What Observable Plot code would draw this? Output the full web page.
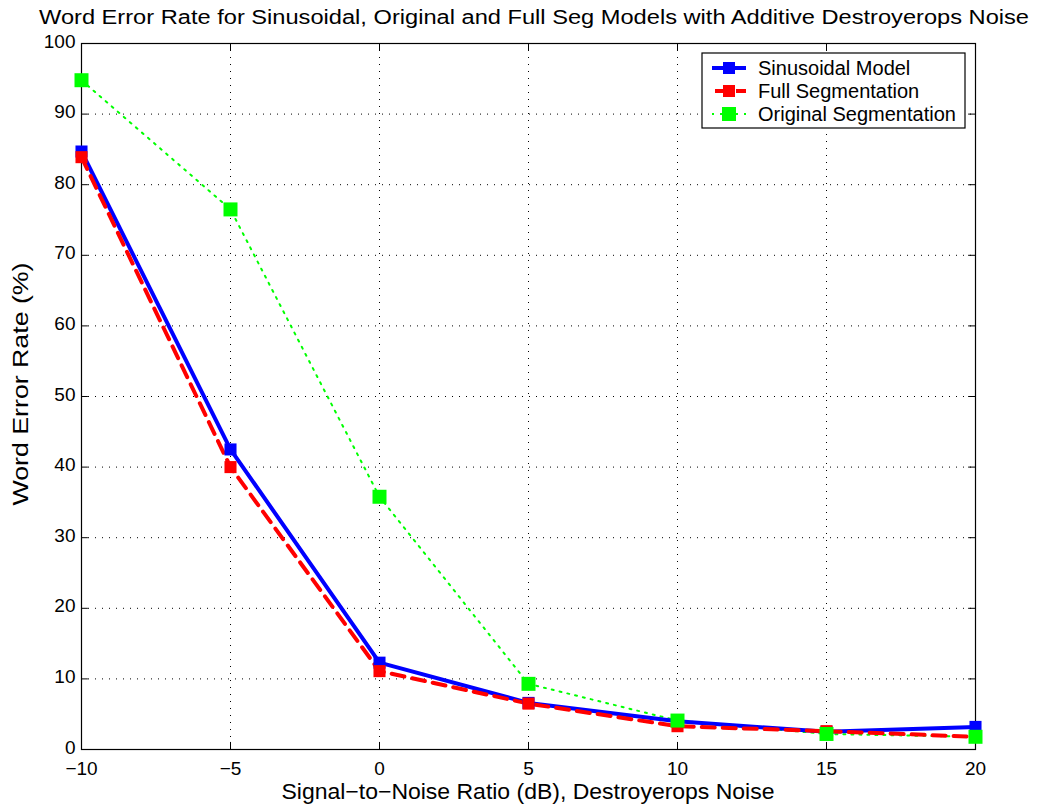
<!DOCTYPE html>
<html><head><meta charset="utf-8">
<script src="https://cdn.jsdelivr.net/npm/d3@7"></script>
<script src="https://cdn.jsdelivr.net/npm/@observablehq/plot@0.6"></script>
<style>body{margin:0;background:#fff;font-family:"Liberation Sans",Arial,sans-serif}</style>
</head><body><div id="chart"></div>
<script>
const snr = [-10, -5, 0, 5, 10, 15, 20];
const sinusoidal = [84.7, 42.5, 12.3, 6.6, 4.0, 2.5, 3.2];
const fullSeg = [83.9, 40.0, 11.1, 6.5, 3.3, 2.6, 1.8];
const originalSeg = [94.8, 76.5, 35.8, 9.3, 4.1, 2.2, 1.8];
const xTicks = [-10, -5, 0, 5, 10, 15, 20];
const yTicks = [0, 10, 20, 30, 40, 50, 60, 70, 80, 90, 100];
const seriesNames = ["Sinusoidal Model", "Full Segmentation", "Original Segmentation"];
const titleText = "Word Error Rate for Sinusoidal, Original and Full Seg Models with Additive Destroyerops Noise";
const xLabel = "Signal\u2212to\u2212Noise Ratio (dB), Destroyerops Noise";
const yLabel = "Word Error Rate (%)";

const mk = (vals, name) => snr.map((x, i) => ({x, y: vals[i], name}));
const dS = mk(sinusoidal, seriesNames[0]);
const dF = mk(fullSeg, seriesNames[1]);
const dO = mk(originalSeg, seriesNames[2]);

const font = "Liberation Sans, Arial, sans-serif";
const minus = d => String(d).replace("-", "\u2212");
const plot = Plot.plot({
  width: 1042, height: 809,
  marginLeft: 81, marginRight: 67, marginTop: 43, marginBottom: 60,
  style: {fontFamily: font, fontSize: "19px", background: "white", color: "black"},
  x: {domain: [-10, 20], ticks: xTicks, label: null, tickFormat: minus},
  y: {domain: [0, 100], ticks: yTicks, label: null},
  marks: [
    Plot.gridX(xTicks, {stroke: "black", strokeOpacity: 1, strokeDasharray: "1,6", strokeWidth: 1}),
    Plot.gridY(yTicks, {stroke: "black", strokeOpacity: 1, strokeDasharray: "1,6", strokeWidth: 1}),
    Plot.ruleX(xTicks, {y1: 0, y2: 1.0, stroke: "black"}),
    Plot.ruleX(xTicks, {y1: 99.0, y2: 100, stroke: "black"}),
    Plot.ruleY(yTicks, {x1: -10, x2: -9.77, stroke: "black"}),
    Plot.ruleY(yTicks, {x1: 19.77, x2: 20, stroke: "black"}),
    Plot.frame({stroke: "black", strokeWidth: 1.2}),
    Plot.axisX(xTicks, {tickSize: 0, tickPadding: 12, fontSize: 19, tickFormat: minus}),
    Plot.axisY(yTicks, {tickSize: 0, tickPadding: 6, fontSize: 19, dy: -2}),
    Plot.line(dO, {x: "x", y: "y", stroke: "#00ff00", strokeWidth: 2, strokeDasharray: "2,6"}),
    Plot.line(dS, {x: "x", y: "y", stroke: "#0000ff", strokeWidth: 4}),
    Plot.line(dF, {x: "x", y: "y", stroke: "#ff0000", strokeWidth: 4, strokeDasharray: "13,8"}),
    Plot.dot(dS, {x: "x", y: "y", symbol: "square", r: 6.8, fill: "#0000ff"}),
    Plot.dot(dF, {x: "x", y: "y", symbol: "square", r: 6.8, fill: "#ff0000"}),
    Plot.dot(dO, {x: "x", y: "y", symbol: "square", r: 7.9, fill: "#00ff00"})
  ]
});
document.getElementById("chart").appendChild(plot);

const svg = d3.select(plot);
svg.append("text").attr("x", 534).attr("y", 24).attr("text-anchor", "middle")
  .attr("font-size", 20).attr("font-family", font)
  .attr("textLength", 990).attr("lengthAdjust", "spacingAndGlyphs").text(titleText);
svg.append("text").attr("x", 528).attr("y", 799).attr("text-anchor", "middle")
  .attr("font-size", 22).attr("font-family", font)
  .attr("textLength", 493).attr("lengthAdjust", "spacingAndGlyphs").text(xLabel);
svg.append("text").attr("transform", "translate(28,384) rotate(-90)").attr("text-anchor", "middle")
  .attr("font-size", 22).attr("font-family", font)
  .attr("textLength", 243).attr("lengthAdjust", "spacingAndGlyphs").text(yLabel);

// legend
const lg = svg.append("g").attr("transform", "translate(702,53)");
lg.append("rect").attr("width", 263).attr("height", 75).attr("fill", "white").attr("stroke", "black").attr("stroke-width", 1.2);
const styles = [
  {c: "#0000ff", w: 4, dash: null, s: 12},
  {c: "#ff0000", w: 4, dash: "13,8", s: 12},
  {c: "#00ff00", w: 2, dash: "2,6", s: 14}
];
seriesNames.forEach((n, i) => {
  const y = 15 + i * 23;
  const st = styles[i];
  const l = lg.append("line").attr("x1", 10).attr("x2", 44).attr("y1", y).attr("y2", y)
    .attr("stroke", st.c).attr("stroke-width", st.w);
  if (st.dash) l.attr("stroke-dasharray", st.dash).attr("stroke-dashoffset", i === 1 ? -3 : 0);
  lg.append("rect").attr("x", 27 - st.s / 2).attr("y", y - st.s / 2).attr("width", st.s).attr("height", st.s).attr("fill", st.c);
  lg.append("text").attr("x", 56).attr("y", y + 7).attr("text-anchor", "start")
    .attr("font-size", 20).attr("font-family", font).text(n);
});
</script></body></html>
